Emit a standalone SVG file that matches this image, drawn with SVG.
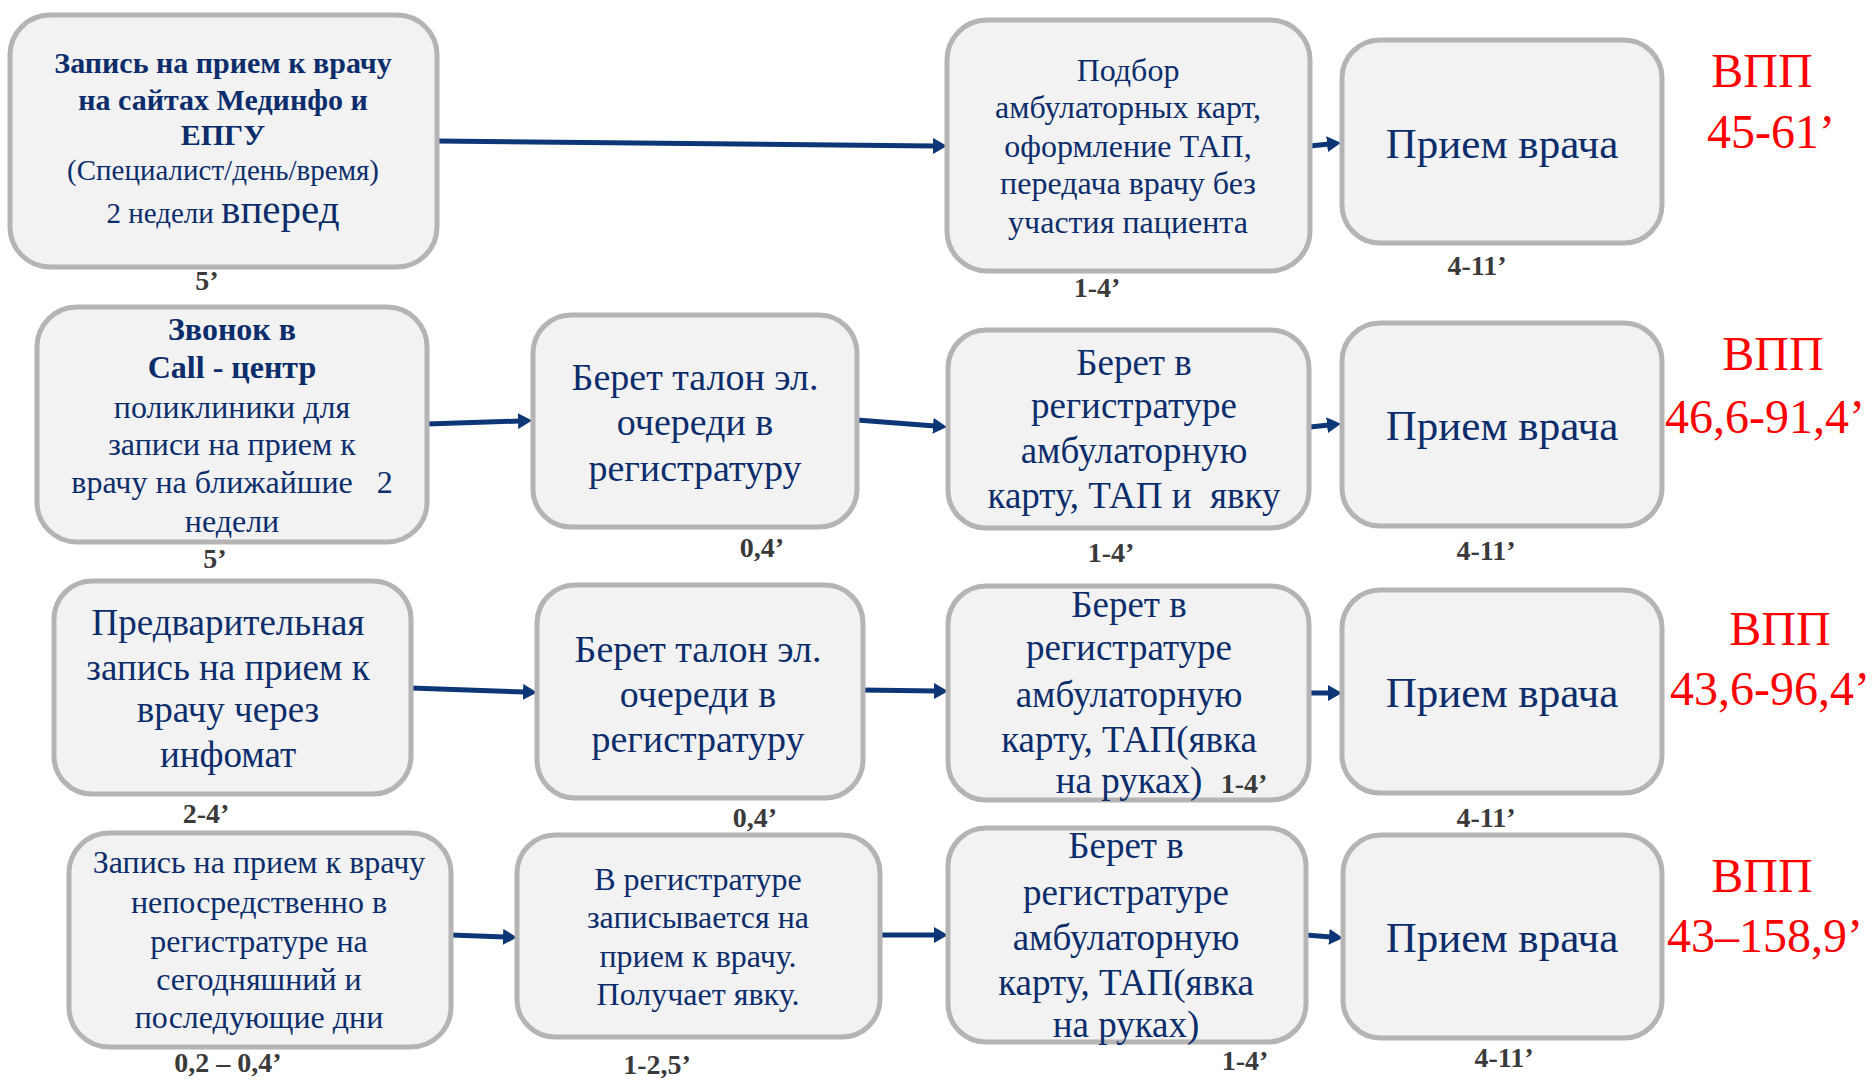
<svg xmlns="http://www.w3.org/2000/svg" width="1872" height="1081" viewBox="0 0 1872 1081">
<style>
.box{fill:#f2f2f2;stroke:#b4b4b4;stroke-width:5}
.t{font-family:"Liberation Serif","Times New Roman",serif;fill:#0c2d6b;text-anchor:middle}
.b{font-weight:bold}
.lbl{font-family:"Liberation Serif","Times New Roman",serif;font-weight:bold;font-size:28px;fill:#3a3a3a;text-anchor:middle}
.red{font-family:"Liberation Serif","Times New Roman",serif;font-size:48px;fill:#ff0000;text-anchor:middle}
.arr{fill:none;stroke:#0d3677;stroke-width:5;marker-end:url(#ah)}
</style>
<defs>
<marker id="ah" markerUnits="userSpaceOnUse" markerWidth="16" markerHeight="16" refX="2" refY="8" orient="auto">
<path d="M0,0 L14,8 L0,16 z" fill="#0d3677"/>
</marker>
</defs>
<rect width="1872" height="1081" fill="#ffffff"/>

<g id="connectors">
<path class="arr" d="M437,141 L935,146"/>
<path class="arr" d="M1310,146 L1329,144"/>
<path class="arr" d="M427,424 L520,421"/>
<path class="arr" d="M857,420 L935,426"/>
<path class="arr" d="M1310,427 L1329,425"/>
<path class="arr" d="M411,688 L525,692"/>
<path class="arr" d="M862,690 L936,691"/>
<path class="arr" d="M1310,693 L1330,693"/>
<path class="arr" d="M451,935 L505,937"/>
<path class="arr" d="M880,935 L936,935"/>
<path class="arr" d="M1306,935 L1331,937"/>
</g>

<g id="nodeA">
<rect class="box" x="10" y="15" width="427" height="252" rx="40"/>
<text class="t b" font-size="30"><tspan x="223" y="73">Запись на прием к врачу</tspan><tspan x="223" y="110">на сайтах Мединфо и</tspan><tspan x="223" y="145">ЕПГУ</tspan></text>
<text class="t" font-size="29" x="223" y="180">(Специалист/день/время)</text>
<text class="t" font-size="29" x="223" y="223">2 недели <tspan font-size="41">вперед</tspan></text>
</g>
<text class="lbl" x="207" y="290">5’</text>

<g id="nodeB">
<rect class="box" x="947" y="20" width="363" height="251" rx="40"/>
<text class="t" font-size="32"><tspan x="1128" y="81">Подбор</tspan><tspan x="1128" y="118">амбулаторных карт,</tspan><tspan x="1128" y="157">оформление ТАП,</tspan><tspan x="1128" y="194">передача врачу без</tspan><tspan x="1128" y="233">участия пациента</tspan></text>
</g>
<text class="lbl" x="1097" y="297">1-4’</text>

<g id="nodeC">
<rect class="box" x="1342" y="40" width="320" height="203" rx="38"/>
<text class="t" font-size="43" x="1502" y="158">Прием врача</text>
</g>
<text class="lbl" x="1477" y="275">4-11’</text>
<text class="red" x="1762" y="87">ВПП</text>
<text class="red" x="1771" y="148">45-61’</text>

<g id="nodeD">
<rect class="box" x="37" y="307" width="390" height="235" rx="40"/>
<text class="t b" font-size="32"><tspan x="232" y="340">Звонок в</tspan><tspan x="232" y="378">Call - центр</tspan></text>
<text class="t" font-size="32" xml:space="preserve"><tspan x="232" y="418">поликлиники для</tspan><tspan x="232" y="455">записи на прием к</tspan><tspan x="232" y="493">врачу на ближайшие   2</tspan><tspan x="232" y="532">недели</tspan></text>
</g>
<text class="lbl" x="215" y="568">5’</text>

<g id="nodeE">
<rect class="box" x="533" y="315" width="324" height="212" rx="38"/>
<text class="t" font-size="38"><tspan x="695" y="390">Берет талон эл.</tspan><tspan x="695" y="435">очереди в</tspan><tspan x="695" y="481">регистратуру</tspan></text>
</g>
<text class="lbl" x="762" y="557">0,4’</text>

<g id="nodeF">
<rect class="box" x="948" y="330" width="361" height="198" rx="38"/>
<text class="t" font-size="37" xml:space="preserve"><tspan x="1134" y="375">Берет в</tspan><tspan x="1134" y="418">регистратуре</tspan><tspan x="1134" y="463">амбулаторную</tspan><tspan x="1134" y="508">карту, ТАП и  явку</tspan></text>
</g>
<text class="lbl" x="1111" y="562">1-4’</text>

<g id="nodeG">
<rect class="box" x="1342" y="323" width="320" height="203" rx="38"/>
<text class="t" font-size="43" x="1502" y="440">Прием врача</text>
</g>
<text class="lbl" x="1486" y="560">4-11’</text>
<text class="red" x="1773" y="370">ВПП</text>
<text class="red" x="1765" y="433">46,6-91,4’</text>

<g id="nodeH">
<rect class="box" x="54" y="581" width="357" height="213" rx="38"/>
<text class="t" font-size="37"><tspan x="228" y="635">Предварительная</tspan><tspan x="228" y="680">запись на прием к</tspan><tspan x="228" y="722">врачу через</tspan><tspan x="228" y="767">инфомат</tspan></text>
</g>
<text class="lbl" x="206" y="823">2-4’</text>

<g id="nodeI">
<rect class="box" x="537" y="585" width="326" height="213" rx="38"/>
<text class="t" font-size="38"><tspan x="698" y="662">Берет талон эл.</tspan><tspan x="698" y="707">очереди в</tspan><tspan x="698" y="752">регистратуру</tspan></text>
</g>
<text class="lbl" x="755" y="827">0,4’</text>

<g id="nodeJ">
<rect class="box" x="948" y="586" width="361" height="214" rx="38"/>
<text class="t" font-size="37"><tspan x="1129" y="617">Берет в</tspan><tspan x="1129" y="660">регистратуре</tspan><tspan x="1129" y="707">амбулаторную</tspan><tspan x="1129" y="752">карту, ТАП(явка</tspan><tspan x="1129" y="793">на руках)</tspan></text>
</g>
<text class="lbl" x="1244" y="793">1-4’</text>

<g id="nodeK">
<rect class="box" x="1342" y="590" width="320" height="203" rx="38"/>
<text class="t" font-size="43" x="1502" y="707">Прием врача</text>
</g>
<text class="lbl" x="1486" y="827">4-11’</text>
<text class="red" x="1780" y="645">ВПП</text>
<text class="red" x="1770" y="705">43,6-96,4’</text>

<g id="nodeL">
<rect class="box" x="69" y="833" width="382" height="214" rx="40"/>
<text class="t" font-size="32"><tspan x="259" y="873">Запись на прием к врачу</tspan><tspan x="259" y="913">непосредственно в</tspan><tspan x="259" y="952">регистратуре на</tspan><tspan x="259" y="990">сегодняшний и</tspan><tspan x="259" y="1028">последующие дни</tspan></text>
</g>
<text class="lbl" x="228" y="1072">0,2 – 0,4’</text>

<g id="nodeN">
<rect class="box" x="517" y="835" width="363" height="202" rx="38"/>
<text class="t" font-size="32"><tspan x="698" y="890">В регистратуре</tspan><tspan x="698" y="928">записывается на</tspan><tspan x="698" y="967">прием к врачу.</tspan><tspan x="698" y="1005">Получает явку.</tspan></text>
</g>
<text class="lbl" x="657" y="1074">1-2,5’</text>

<g id="nodeM">
<rect class="box" x="948" y="828" width="358" height="214" rx="38"/>
<text class="t" font-size="37"><tspan x="1126" y="858">Берет в</tspan><tspan x="1126" y="905">регистратуре</tspan><tspan x="1126" y="950">амбулаторную</tspan><tspan x="1126" y="995">карту, ТАП(явка</tspan><tspan x="1126" y="1037">на руках)</tspan></text>
</g>
<text class="lbl" x="1245" y="1070">1-4’</text>

<g id="nodeO">
<rect class="box" x="1343" y="835" width="319" height="203" rx="38"/>
<text class="t" font-size="43" x="1502" y="952">Прием врача</text>
</g>
<text class="lbl" x="1504" y="1067">4-11’</text>
<text class="red" x="1762" y="892">ВПП</text>
<text class="red" x="1765" y="952">43–158,9’</text>
</svg>
